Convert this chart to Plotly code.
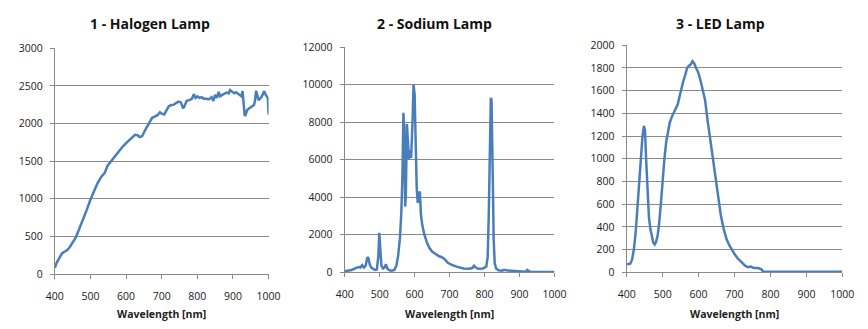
import plotly.graph_objects as go

# Halogen lamp spectrum
halogen_wl = [400, 405, 412, 420, 428, 435, 442, 450, 458, 465, 472, 480, 490, 500, 510, 520, 530, 540,
              548, 556, 564, 572, 580, 590, 600, 610, 618, 625, 632, 638, 645, 652, 660, 667, 673, 680,
              688, 695, 700, 707, 714, 720, 727, 734, 740, 747, 754, 760, 764, 770, 778, 785, 790, 795,
              800, 806, 812, 818, 825, 832, 840, 845, 850, 855, 860, 864, 870, 876, 882, 888, 892, 898,
              904, 909, 915, 920, 924, 927, 930, 933, 936, 940, 945, 950, 955, 959, 962, 965, 968, 972,
              976, 980, 985, 988, 992, 995, 998, 1000]
halogen_val = [85, 150, 210, 275, 300, 320, 360, 420, 480, 560, 640, 730, 860, 990, 1110, 1210, 1290, 1345,
               1440, 1490, 1530, 1580, 1640, 1690, 1740, 1790, 1820, 1850, 1845, 1820, 1830, 1900, 1970, 2030,
               2075, 2090, 2110, 2150, 2130, 2120, 2170, 2230, 2245, 2250, 2270, 2290, 2280, 2200, 2230, 2300,
               2310, 2330, 2390, 2340, 2360, 2340, 2350, 2330, 2330, 2320, 2350, 2300, 2380, 2340, 2420, 2360,
               2380, 2400, 2410, 2400, 2445, 2420, 2400, 2415, 2390, 2380, 2360, 2430, 2250, 2100, 2120, 2180,
               2200, 2220, 2230, 2245, 2300, 2435, 2380, 2310, 2330, 2350, 2400, 2430, 2380, 2350, 2340, 2120]

# Sodium lamp spectrum
sodium_wl = [400, 410, 420, 430, 440, 445, 450, 455, 460, 465, 468, 472, 476, 480, 486, 492, 496, 499, 502,
             505, 510, 514, 518, 522, 528, 535, 542, 548, 553, 558, 562, 565, 568, 570, 573, 575, 578, 581,
             584, 587, 590, 594, 597, 600, 603, 606, 609, 612, 615, 618, 622, 628, 635, 642, 650, 660, 670,
             678, 686, 695, 705, 720, 740, 755, 765, 770, 775, 782, 795, 805, 809, 812, 815, 818, 820, 822,
             824, 826, 829, 833, 840, 850, 856, 862, 870, 880, 890, 900, 910, 918, 922, 930, 950, 1000]
sodium_val = [50, 80, 120, 200, 280, 250, 380, 250, 350, 800, 750, 400, 250, 200, 120, 150, 800, 2100, 1200,
              350, 200, 250, 420, 200, 100, 80, 120, 350, 900, 1800, 3200, 5000, 8500, 7800, 3500, 4200,
              7900, 6500, 6000, 6500, 6100, 8000, 10000, 9500, 6500, 4500, 3700, 4200, 4300, 3100, 2500,
              2000, 1600, 1300, 1100, 950, 850, 800, 700, 500, 400, 300, 200, 180, 220, 350, 250, 180, 200,
              300, 800, 3000, 7500, 9300, 9200, 7500, 4500, 1800, 500, 200, 100, 80, 130, 100, 90, 80, 70,
              60, 30, 20, 120, 20, 10, 10]

# LED lamp spectrum
led_wl = [400, 405, 410, 415, 420, 425, 430, 435, 440, 444, 448, 451, 454, 458, 462, 466, 470, 474, 478,
          482, 486, 490, 495, 500, 505, 510, 515, 520, 527, 535, 542, 548, 553, 558, 563, 568, 573, 578,
          583, 588, 593, 598, 603, 608, 613, 618, 625, 632, 640, 648, 655, 662, 670, 678, 685, 692, 700,
          708, 715, 722, 730, 738, 745, 752, 760, 768, 775, 780, 785, 800, 850, 900, 950, 1000]
led_val = [70, 70, 75, 110, 200, 350, 600, 850, 1050, 1200, 1290, 1250, 1000, 700, 480, 380, 300, 260, 245,
           270, 320, 420, 600, 850, 1000, 1150, 1250, 1320, 1380, 1440, 1480, 1560, 1630, 1690, 1740, 1800,
           1820, 1830, 1860, 1840, 1800, 1770, 1720, 1660, 1600, 1520, 1340, 1180, 1000, 820, 650, 500, 380,
           290, 240, 200, 160, 125, 100, 80, 55, 45, 50, 40, 40, 35, 25, 5, 5, 5, 5, 5, 5, 5]

x_ticks = [400, 500, 600, 700, 800, 900, 1000]

titles = ["1 - Halogen Lamp", "2 - Sodium Lamp", "3 - LED Lamp"]
x_title = "Wavelength [nm]"

W, H = 868, 329
LINE = "#4a7ebb"
GRID = "#8a8a8a"
FONT = "Open Sans"

# pixel boxes of the three plot areas: (left, right, top, bottom)
boxes = [(47, 266, 43, 279), (344, 559, 42, 277), (633, 854, 40, 277)]
# chart titles sit a little left of the plot-area centre
title_x = [144, 436, 729]
y_ranges = [(0, 3000, 500), (0, 12000, 2000), (0, 2000, 200)]
series = [(halogen_wl, halogen_val), (sodium_wl, sodium_val), (led_wl, led_val)]

fig = go.Figure()
layout = dict(
    width=W, height=H, margin=dict(l=0, r=0, t=0, b=0),
    paper_bgcolor="white", plot_bgcolor="white", showlegend=False,
    font=dict(family=FONT, size=10, color="#222222"),
)
annotations = []
for i, ((wl, val), (l, r, t, b), (y0, y1, dy), title, tx) in enumerate(
        zip(series, boxes, y_ranges, titles, title_x)):
    n = "" if i == 0 else str(i + 1)
    fig.add_trace(go.Scatter(x=wl, y=val, mode="lines", xaxis="x" + n, yaxis="y" + n,
                             line=dict(color=LINE, width=2.5), hoverinfo="skip"))
    layout["xaxis" + n] = dict(
        domain=[l / W, r / W], anchor="y" + n, range=[400, 1000],
        tickvals=x_ticks, ticks="outside", ticklen=4, tickcolor=GRID,
        ticklabelstandoff=8,
        showline=True, linecolor=GRID, linewidth=1, showgrid=False, zeroline=False,
        tickfont=dict(size=10.5, color="#222222"),
    )
    layout["yaxis" + n] = dict(
        domain=[(H - b) / H, (H - t) / H], anchor="x" + n, range=[y0, y1],
        dtick=dy, tick0=0, tickformat="d", ticks="outside", ticklen=4, tickcolor=GRID,
        ticklabelstandoff=5,
        showline=True, linecolor=GRID, linewidth=1,
        showgrid=True, gridcolor=GRID, gridwidth=1.2, zeroline=False,
        tickfont=dict(size=10.5, color="#222222"),
    )
    cx = (l + r) / 2 / W
    annotations.append(dict(text="<b>" + title + "</b>", x=tx / W, y=1 - 17 / H, xref="paper", yref="paper",
                            xanchor="center", yanchor="middle", showarrow=False,
                            font=dict(family=FONT, size=14, color="#111111")))
    annotations.append(dict(text="<b>" + x_title + "</b>", x=cx, y=1 - 321 / H, xref="paper", yref="paper",
                            xanchor="center", yanchor="middle", showarrow=False,
                            font=dict(family=FONT, size=10.5, color="#222222")))
layout["annotations"] = annotations
fig.update_layout(**layout)

fig.write_html("out.html")
